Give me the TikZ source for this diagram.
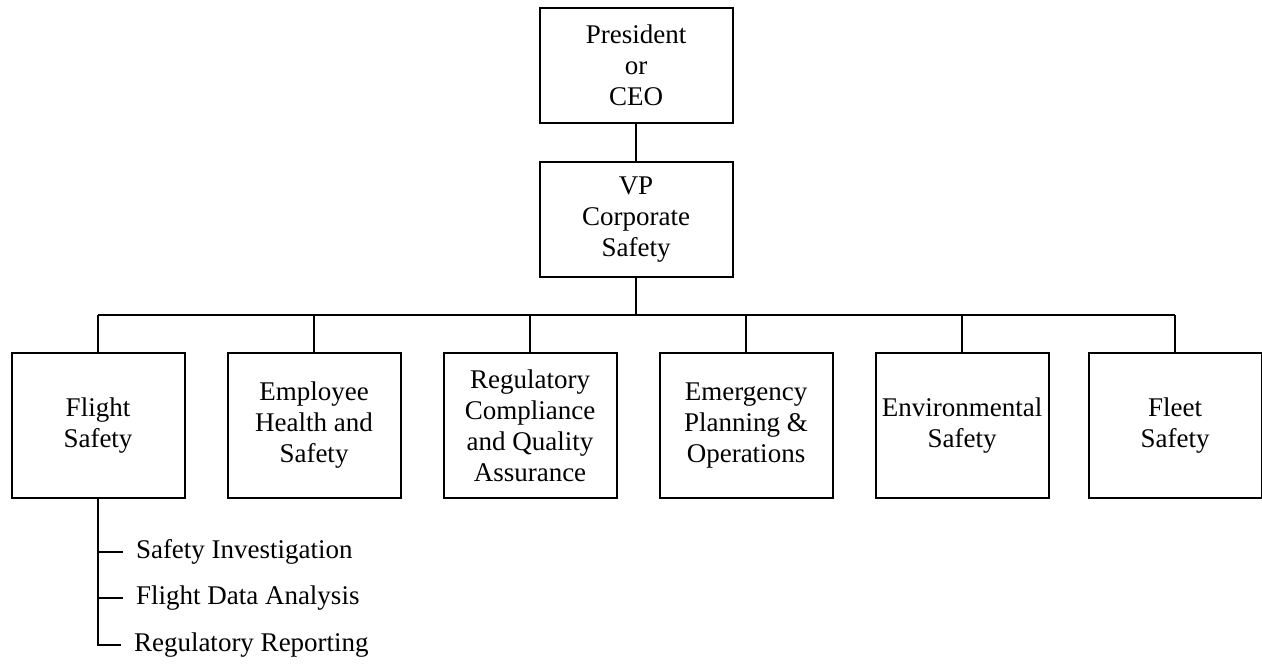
\documentclass[tikz,border=0pt]{standalone}
\usepackage{fontspec}
\setmainfont{Liberation Serif}
\begin{document}
\begin{tikzpicture}[
    x=0.5pt, y=-0.5pt,
    every path/.style={line width=1pt},
    unit/.style={draw, align=center, inner sep=0pt, font=\fontsize{13.5}{15.5}\selectfont},
    head/.style={unit, minimum width=96.5pt, minimum height=57.5pt},
    dept/.style={unit, minimum width=86.5pt, minimum height=72.5pt},
    task/.style={anchor=west, inner xsep=6pt, inner ysep=0pt, font=\fontsize{13.5}{15.5}\selectfont},
]
    \useasboundingbox (0, 0) rectangle (1262, 664);

    \node[head] (ceo) at (636, 65.5) {President\\or\\CEO};
    \node[head] (vp) at (636, 219.5) {VP\\Corporate\\Safety};

    \coordinate (bus) at (0, 315);

    \node[dept] (fs) at (98, 425.5) {Flight\\Safety};
    \node[dept] (eh) at (314, 425.5) {Employee\\Health and\\Safety};
    \node[dept] (rc) at (530, 425.5) {Regulatory\\Compliance\\and Quality\\Assurance};
    \node[dept] (ep) at (746, 425.5) {Emergency\\Planning \&\\Operations};
    \node[dept] (es) at (962, 425.5) {Environmental\\Safety};
    \node[dept] (fl) at (1175, 425.5) {Fleet\\Safety};

    \draw (ceo) -- (vp);
    \draw (vp.south) -- (vp.south |- bus);
    \draw (fs.north |- bus) -- (fl.north |- bus);
    \foreach \d in {fs, eh, rc, ep, es, fl}
        \draw (\d.north) -- (\d.north |- bus);

    \node[task] (si) at (123, 552) {Safety Investigation};
    \node[task] (fd) at (123, 598) {Flight Data Analysis};
    \node[task] (rr) at (121, 645) {Regulatory Reporting};

    \draw (fs.south) |- (rr.west);
    \draw (fs.south |- si.west) -- (si.west);
    \draw (fs.south |- fd.west) -- (fd.west);
\end{tikzpicture}
\end{document}
